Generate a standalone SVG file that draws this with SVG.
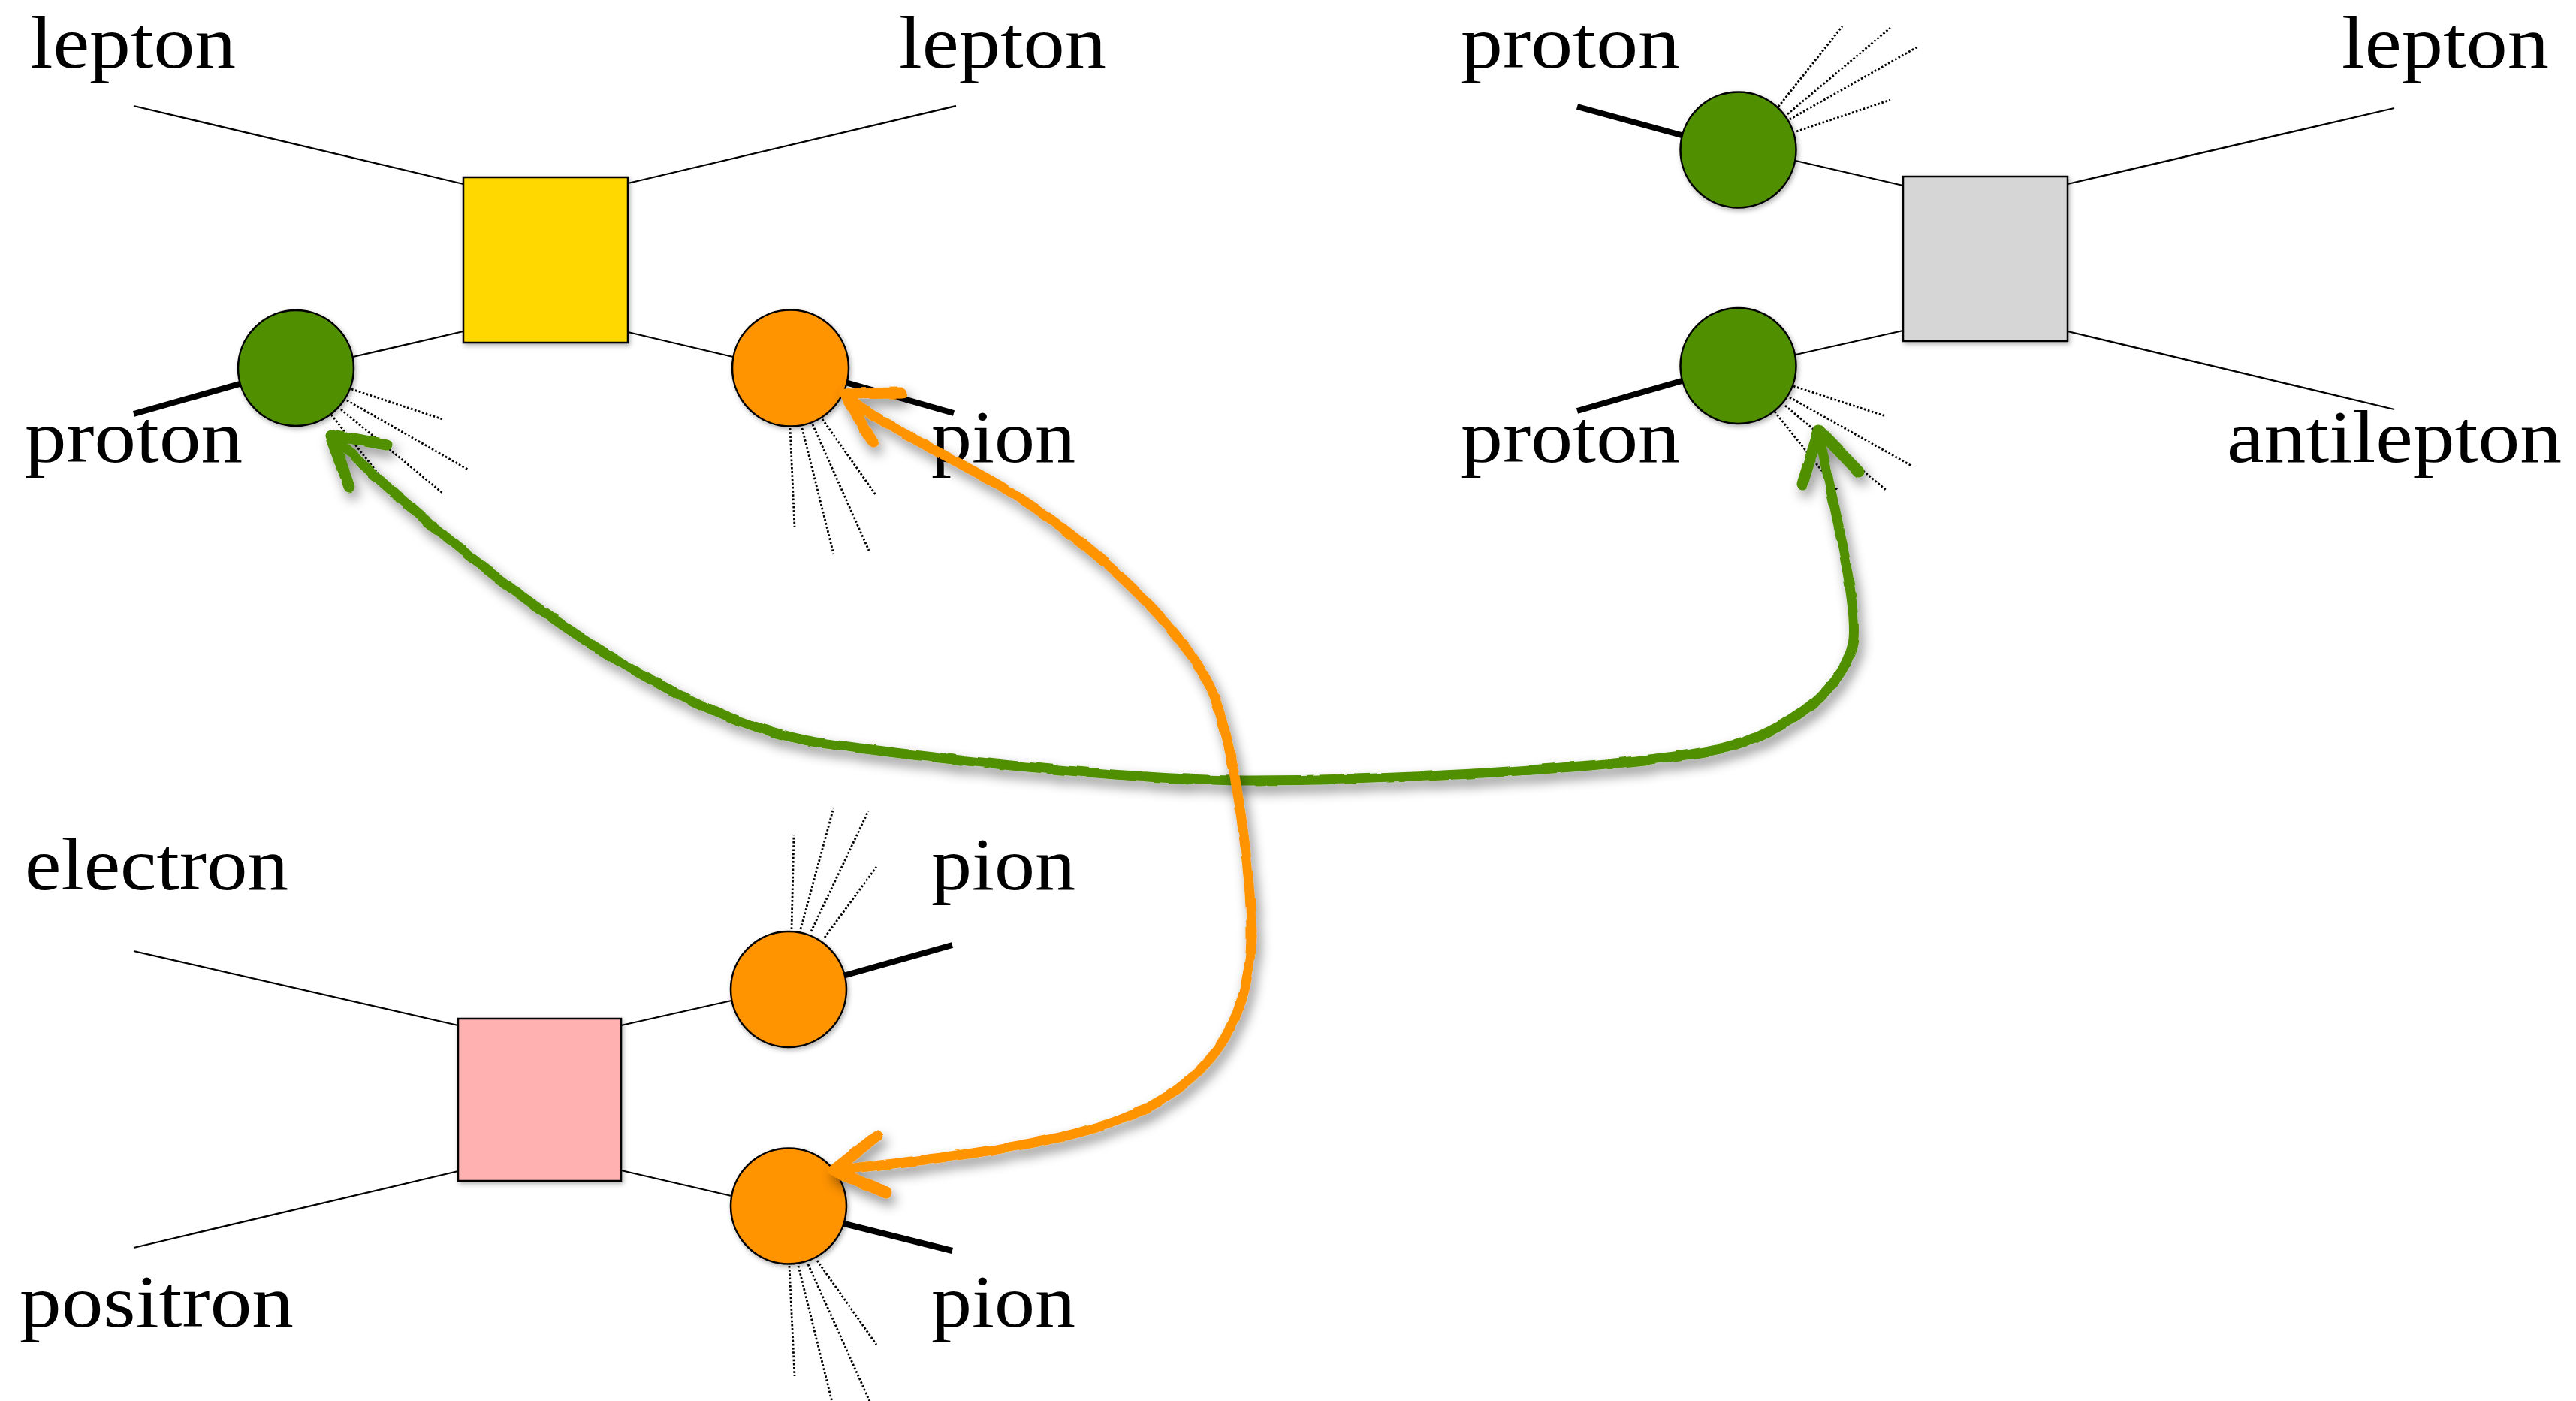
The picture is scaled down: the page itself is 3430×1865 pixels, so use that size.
<svg xmlns="http://www.w3.org/2000/svg" width="3430" height="1865" viewBox="0 0 3430 1865">
<style>
.lbl{font-family:"Liberation Serif","Times New Roman",serif;font-size:100px;fill:#000}
.leg{stroke:#000;stroke-width:2.3;fill:none}
.ext{stroke:#000;stroke-width:8;fill:none}
.jet{stroke:#000;stroke-width:2.8;stroke-dasharray:2.6 2.6;fill:none}
.box{stroke:#000;stroke-width:2.5}
.blob{stroke:#000;stroke-width:2.5}
.green{fill:#4F8F00}
.orange{fill:#FF9300}
.arrow{fill:none;stroke-width:13;stroke-linecap:round;stroke-linejoin:round}
.head{fill:none;stroke-width:15;stroke-linecap:round;stroke-linejoin:round}
.ga{stroke:#4F8F00}
.oa{stroke:#FF9300}
</style>
<defs>
<filter id="sh" x="-20%" y="-20%" width="150%" height="150%"><feDropShadow dx="2" dy="3" stdDeviation="3" flood-color="#000" flood-opacity="0.3"/></filter>
<filter id="ash" x="-10%" y="-12%" width="130%" height="135%">
  <feTurbulence type="fractalNoise" baseFrequency="0.035" numOctaves="2" seed="7" result="n"/>
  <feDisplacementMap in="SourceGraphic" in2="n" scale="4" xChannelSelector="R" yChannelSelector="G" result="d"/>
  <feDropShadow in="d" dx="5" dy="9" stdDeviation="8" flood-color="#000" flood-opacity="0.45"/>
</filter>
</defs>
<rect width="3430" height="1865" fill="#fff"/>

<g id="connectors">
  <!-- top-left diagram -->
  <line class="leg" x1="178" y1="141" x2="617" y2="245"/>
  <line class="leg" x1="836" y1="244" x2="1273" y2="141"/>
  <line class="leg" x1="470" y1="475" x2="617" y2="441"/>
  <line class="leg" x1="836" y1="442" x2="976" y2="475"/>
  <line class="ext" x1="178" y1="551" x2="330" y2="508"/>
  <line class="ext" x1="1115" y1="506" x2="1270" y2="550"/>
  <path class="jet" d="M468,518L589,558M462,533L623,625M454,545L589,656M441,552L524,656"/>
  <path class="jet" d="M1052,570L1058,702M1068,570L1110,738M1082,565L1157,733M1095,558L1167,660"/>
  <!-- top-right diagram -->
  <line class="ext" x1="2100" y1="142" x2="2250" y2="183"/>
  <line class="ext" x1="2100" y1="547" x2="2250" y2="504"/>
  <line class="leg" x1="2391" y1="214" x2="2534" y2="247"/>
  <line class="leg" x1="2391" y1="472" x2="2534" y2="440"/>
  <line class="leg" x1="2753" y1="245" x2="3188" y2="144"/>
  <line class="leg" x1="2753" y1="441" x2="3188" y2="545"/>
  <path class="jet" d="M2368,142L2453,35M2380,152L2517,37M2383,159L2552,63M2392,175L2517,133"/>
  <path class="jet" d="M2388,514L2511,554M2383,529L2545,620M2377,540L2511,652M2363,548L2447,653"/>
  <!-- bottom-left diagram -->
  <line class="leg" x1="178" y1="1266" x2="610" y2="1365"/>
  <line class="leg" x1="178" y1="1661" x2="610" y2="1559"/>
  <line class="leg" x1="827" y1="1365" x2="974" y2="1332"/>
  <line class="leg" x1="827" y1="1558" x2="974" y2="1592"/>
  <line class="ext" x1="1112" y1="1302" x2="1268" y2="1258"/>
  <line class="ext" x1="1112" y1="1626" x2="1268" y2="1665"/>
  <path class="jet" d="M1054,1237L1057,1111M1066,1237L1110,1075M1080,1240L1156,1080M1098,1248L1167,1154"/>
  <path class="jet" d="M1051,1685L1058,1832M1063,1685L1110,1875M1076,1683L1160,1870M1088,1678L1167,1790"/>
</g>

<g id="box-yellow" filter="url(#sh)"><rect class="box" x="617" y="236" width="219" height="220" fill="#FFD800"/></g>
<g id="box-grey" filter="url(#sh)"><rect class="box" x="2534" y="235" width="219" height="219" fill="#D6D6D6"/></g>
<g id="box-pink" filter="url(#sh)"><rect class="box" x="610" y="1356" width="217" height="216" fill="#FFB1B1"/></g>

<g id="blob-proton-tl" filter="url(#sh)"><circle class="blob green" cx="394" cy="490" r="77"/></g>
<g id="blob-pion-tl" filter="url(#sh)"><circle class="blob orange" cx="1052.5" cy="490" r="77.5"/></g>
<g id="blob-proton-tr1" filter="url(#sh)"><circle class="blob green" cx="2314.5" cy="199.5" r="77"/></g>
<g id="blob-proton-tr2" filter="url(#sh)"><circle class="blob green" cx="2314.5" cy="487" r="77"/></g>
<g id="blob-pion-bl1" filter="url(#sh)"><circle class="blob orange" cx="1050" cy="1317" r="77"/></g>
<g id="blob-pion-bl2" filter="url(#sh)"><circle class="blob orange" cx="1050" cy="1605.5" r="77"/></g>

<g id="labels">
  <g id="lbl-lepton-tl"><text class="lbl" x="40" y="90" textLength="274" lengthAdjust="spacingAndGlyphs">lepton</text></g>
  <g id="lbl-lepton-tm"><text class="lbl" x="1197" y="90" textLength="276" lengthAdjust="spacingAndGlyphs">lepton</text></g>
  <g id="lbl-proton-tl"><text class="lbl" x="33" y="615" textLength="290" lengthAdjust="spacingAndGlyphs">proton</text></g>
  <g id="lbl-pion-tl"><text class="lbl" x="1240" y="615" textLength="192" lengthAdjust="spacingAndGlyphs">pion</text></g>
  <g id="lbl-proton-tr1"><text class="lbl" x="1945" y="90" textLength="292" lengthAdjust="spacingAndGlyphs">proton</text></g>
  <g id="lbl-lepton-tr"><text class="lbl" x="3118" y="90" textLength="276" lengthAdjust="spacingAndGlyphs">lepton</text></g>
  <g id="lbl-proton-tr2"><text class="lbl" x="1945" y="615" textLength="292" lengthAdjust="spacingAndGlyphs">proton</text></g>
  <g id="lbl-antilepton"><text class="lbl" x="2965" y="615" textLength="446" lengthAdjust="spacingAndGlyphs">antilepton</text></g>
  <g id="lbl-electron"><text class="lbl" x="33" y="1184" textLength="351" lengthAdjust="spacingAndGlyphs">electron</text></g>
  <g id="lbl-positron"><text class="lbl" x="26" y="1766" textLength="365" lengthAdjust="spacingAndGlyphs">positron</text></g>
  <g id="lbl-pion-bl1"><text class="lbl" x="1240" y="1184" textLength="192" lengthAdjust="spacingAndGlyphs">pion</text></g>
  <g id="lbl-pion-bl2"><text class="lbl" x="1240" y="1766" textLength="192" lengthAdjust="spacingAndGlyphs">pion</text></g>
</g>

<g id="arrows">
  <g id="arrow-green" filter="url(#ash)">
    <path class="arrow ga" d="M441,579 C610,740 880,960 1100,990 C1250,1011 1500,1037 1645,1039 C1850,1040 2150,1022 2276,1000 C2360,985 2452,927 2467,857 C2477,810 2434,639 2422,579"/>
    <path class="head ga" d="M465,648 L441,579 L515,592"/>
    <path class="head ga" d="M2400,644 L2422,573 L2475,628"/>
  </g>
  <g id="arrow-orange" filter="url(#ash)">
    <path class="arrow oa" d="M1124,524 C1160,560 1270,610 1339,651 C1439,711 1582,836 1617,928 C1645,1002 1666,1160 1666,1246 C1664,1380 1590,1462 1463,1500 C1363,1531 1200,1548 1110,1558"/>
    <path class="head oa" d="M1162,589 L1124,524 L1200,523"/>
    <path class="head oa" d="M1168,1512 L1110,1558 L1180,1588"/>
  </g>
</g>
</svg>
